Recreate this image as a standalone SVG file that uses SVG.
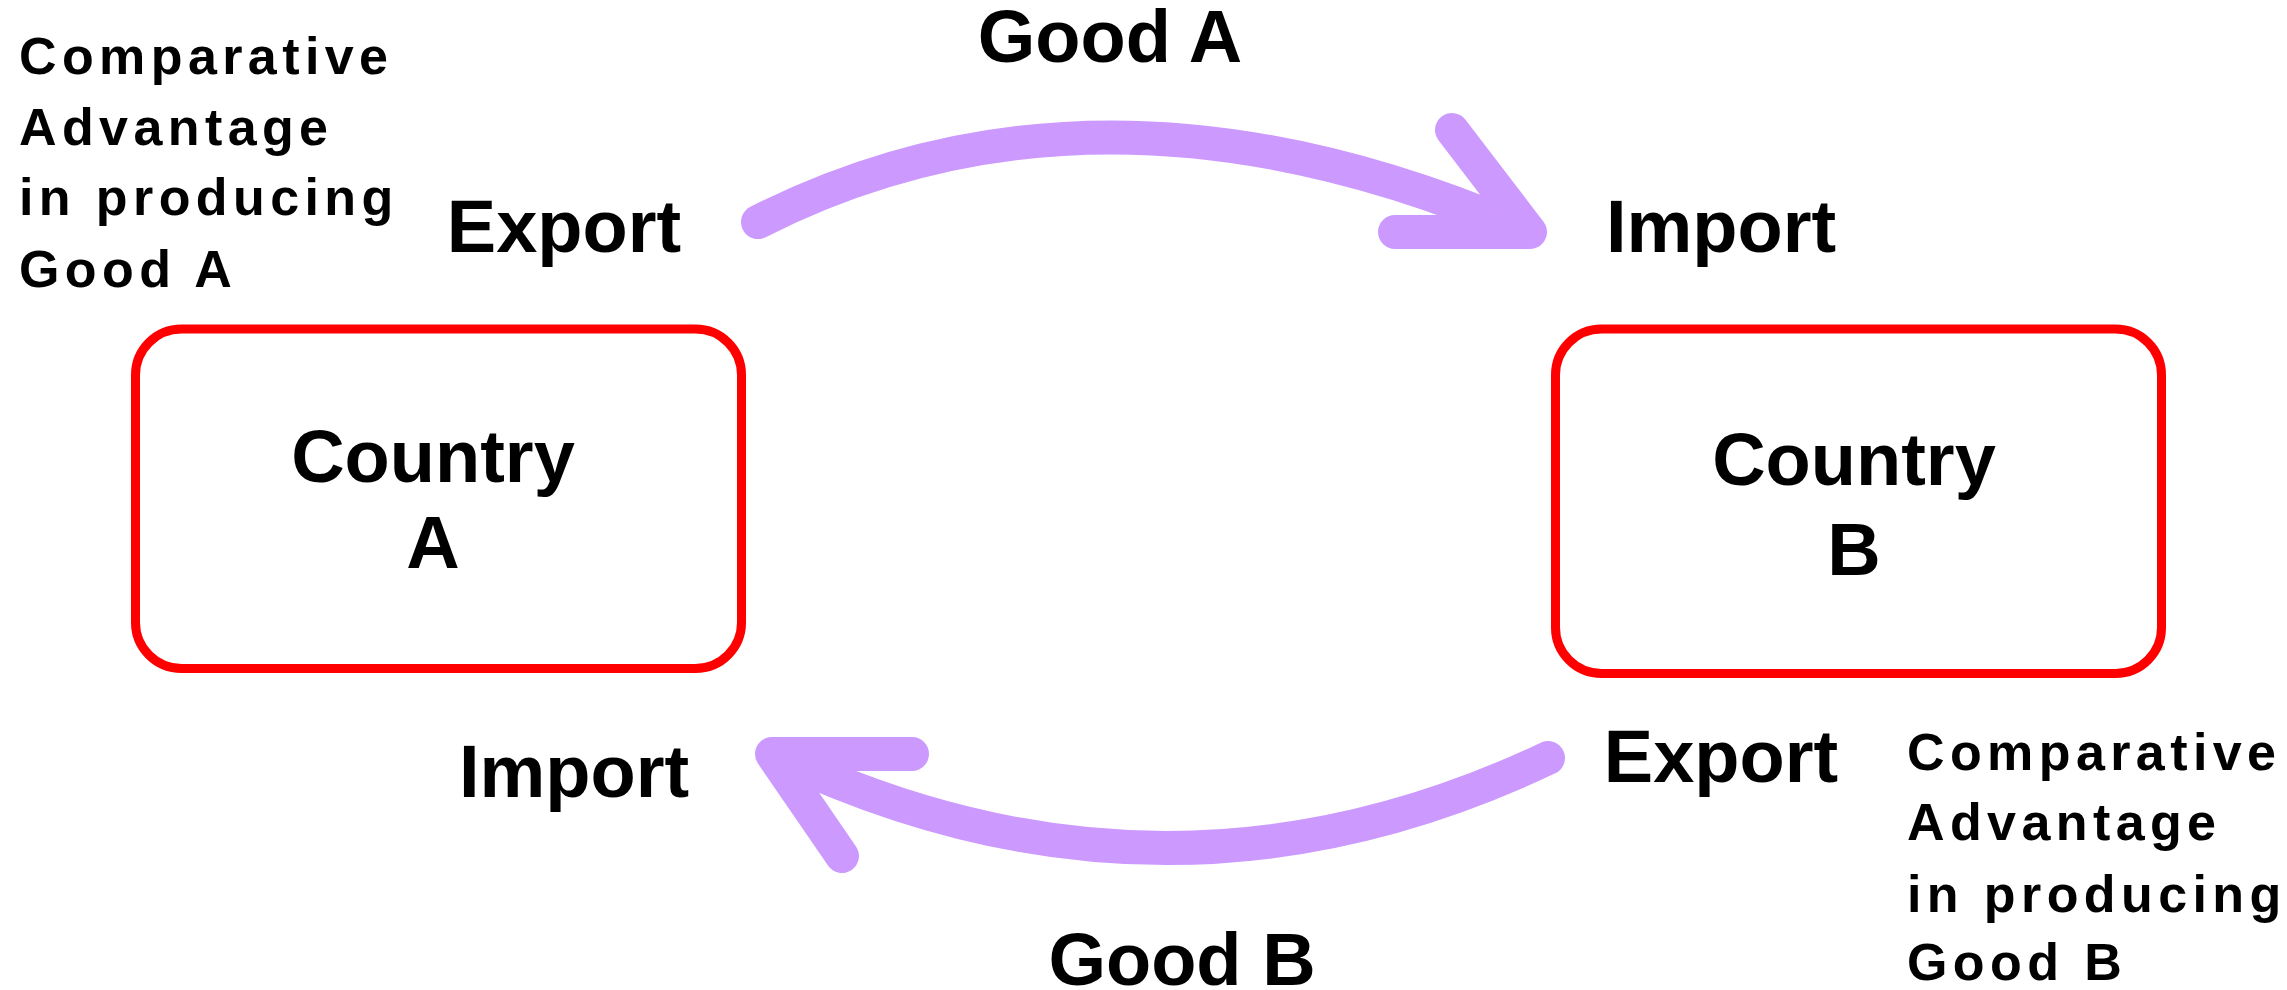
<svg xmlns="http://www.w3.org/2000/svg" width="2287" height="990" viewBox="0 0 2287 990">
  <style>
    .box { fill: #ffffff; stroke: #ff0000; stroke-width: 9; }
    .flow { fill: none; stroke: #cc99ff; stroke-width: 34; stroke-linecap: round; stroke-linejoin: round; }
    .big { font-family: "Liberation Sans", Arial, sans-serif; font-weight: bold; font-size: 74px; fill: #000000; text-anchor: middle; }
    .note { font-family: "Liberation Sans", Arial, sans-serif; font-weight: bold; font-size: 52px; letter-spacing: 5.4px; fill: #000000; }
  </style>
  <rect width="2287" height="990" fill="#ffffff"/>

  <!-- trade flows -->
  <g id="connectors">
    <g id="flow-good-a">
      <path class="flow" d="M758,222 Q1100,49 1522,230"/>
      <path class="flow" d="M1452,130 L1530,232 L1395,232"/>
    </g>
    <g id="flow-good-b">
      <path class="flow" d="M1548,758 Q1166,939 778,756"/>
      <path class="flow" d="M912,754 L772,754 L842,856"/>
    </g>
  </g>

  <g id="country-a">
    <rect class="box" x="135.5" y="329" width="606" height="339.5" rx="46" ry="46"/>
    <text class="big" x="433" y="482">Country</text>
    <text class="big" x="433" y="568">A</text>
  </g>

  <g id="country-b">
    <rect class="box" x="1555.5" y="329" width="606" height="344.5" rx="46" ry="46"/>
    <text class="big" x="1854" y="485">Country</text>
    <text class="big" x="1854" y="575">B</text>
  </g>

  <g id="labels">
    <text class="big" x="1110" y="62">Good A</text>
    <text class="big" x="564" y="252">Export</text>
    <text class="big" x="1721" y="252">Import</text>
    <text class="big" x="1721" y="782">Export</text>
    <text class="big" x="574" y="797">Import</text>
    <text class="big" x="1182" y="985">Good B</text>
  </g>

  <g id="note-a">
    <text class="note" x="19" y="74">Comparative</text>
    <text class="note" x="19" y="145">Advantage</text>
    <text class="note" x="19" y="215">in producing</text>
    <text class="note" x="19" y="287">Good A</text>
  </g>

  <g id="note-b">
    <text class="note" x="1907" y="770">Comparative</text>
    <text class="note" x="1907" y="840">Advantage</text>
    <text class="note" x="1907" y="912">in producing</text>
    <text class="note" x="1907" y="980">Good B</text>
  </g>
</svg>
